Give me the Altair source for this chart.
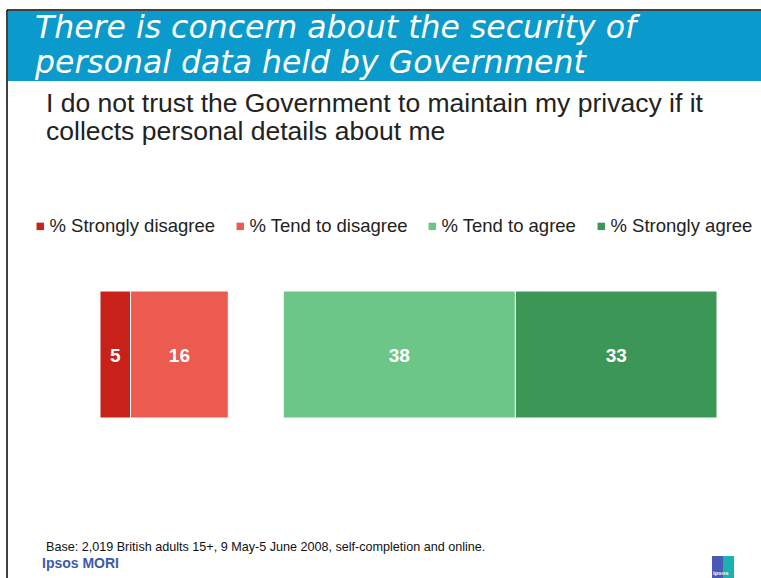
import altair as alt
import pandas as pd

# ---- data ----
categories = ["% Strongly disagree", "% Tend to disagree", "Neither / don't know",
              "% Tend to agree", "% Strongly agree"]
values = [5, 16, 9, 38, 33]
order = [0, 1, 2, 3, 4]
legend_categories = ["% Strongly disagree", "% Tend to disagree",
                     "% Tend to agree", "% Strongly agree"]
colors = ["#C8211A", "#EB5B50", "#6CC688", "#3C9656"]

title_lines = ["There is concern about the security of",
               "personal data held by Government"]
subtitle_lines = ["I do not trust the Government to maintain my privacy if it",
                  "collects personal details about me"]
footnote = "Base: 2,019 British adults 15+, 9 May-5 June 2008, self-completion and online."
brand = "Ipsos MORI"

FONT = "Liberation Sans"

df = pd.DataFrame({"category": categories, "value": values, "order": order, "row": ["q"] * 5})
one = pd.DataFrame({"a": [0]})

xscale = alt.Scale(domain=[0, sum(values)], range=[100, 717], nice=False, zero=False)
yscale = alt.Scale(range=[291, 418], paddingInner=0, paddingOuter=0)

base = (alt.Chart(df)
        .transform_stack(stack="value", as_=["x0", "x1"], groupby=["row"],
                         sort=[alt.SortField("order")])
        .transform_filter("datum.category != \"Neither / don't know\""))

bars = base.mark_bar(stroke="white", strokeWidth=1).encode(
    x=alt.X("x0:Q", scale=xscale, axis=None),
    x2="x1:Q",
    y=alt.Y("row:N", scale=yscale, axis=None),
    color=alt.Color("category:N",
                    scale=alt.Scale(domain=legend_categories, range=colors),
                    legend=alt.Legend(orient="none", legendX=31, legendY=217,
                                      direction="horizontal", columns=4, title=None,
                                      symbolType="square", symbolSize=55,
                                      symbolStrokeWidth=0, labelFont=FONT,
                                      labelFontSize=18.5, labelColor="#222222",
                                      labelOffset=0, columnPadding=15,
                                      labelLimit=400)),
)

labels = (base.transform_calculate(mid="(datum.x0 + datum.x1) / 2")
          .mark_text(color="white", font=FONT, fontSize=19, fontWeight="bold",
                     baseline="middle", align="center", dy=1)
          .encode(x=alt.X("mid:Q", scale=xscale, axis=None),
                  y=alt.Y("row:N", scale=yscale, axis=None),
                  text=alt.Text("value:Q")))

banner = alt.Chart(one).mark_rect(color="#0A9ACB").encode(
    x=alt.value(8), x2=alt.value(761), y=alt.value(11), y2=alt.value(81))
border_left = alt.Chart(one).mark_rule(color="#000000", strokeWidth=1.5).encode(
    x=alt.value(7), y=alt.value(10), y2=alt.value(578))
border_top = alt.Chart(one).mark_rule(color="#000000", strokeWidth=1.5).encode(
    x=alt.value(7), x2=alt.value(761), y=alt.value(10))


def txt(s, x, y, size, color, style="normal", weight="normal", font=FONT, line_height=None):
    kw = {}
    if line_height is not None:
        kw["lineHeight"] = line_height
    return alt.Chart(one).mark_text(text=s, align="left", baseline="alphabetic",
                                    font=font, fontSize=size, color=color,
                                    fontStyle=style, fontWeight=weight, **kw).encode(
        x=alt.value(x), y=alt.value(y))


title = txt(title_lines, 35, 38, 31.5, "white", style="italic", weight=200,
            font="DejaVu Sans", line_height=35)
subtitle = txt(subtitle_lines, 46, 112, 26.5, "#222222", line_height=28)
fn = txt(footnote, 46, 551, 12.6, "#111111")
br = txt(brand, 42, 568, 14, "#3B5BA9", weight="bold")

logo_l = alt.Chart(one).mark_rect(color="#4A5AB2").encode(
    x=alt.value(712), x2=alt.value(723), y=alt.value(556), y2=alt.value(578))
logo_r = alt.Chart(one).mark_rect(color="#1AB2B0").encode(
    x=alt.value(723), x2=alt.value(734), y=alt.value(556), y2=alt.value(578))
logo_t = txt("ipsos", 713, 575, 6, "white", weight="bold")

chart = alt.layer(banner, border_left, border_top, title, subtitle, bars, labels,
                  fn, br, logo_l, logo_r, logo_t).properties(
    width=761, height=578, padding=0, autosize=alt.AutoSizeParams(type="none"),
    background="white"
).configure_view(stroke=None)

chart.save("out.html", embed_options={"renderer": "svg", "actions": False})
